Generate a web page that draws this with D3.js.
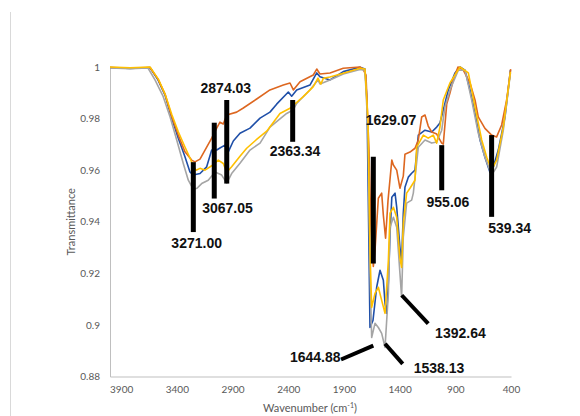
<!DOCTYPE html>
<html>
<head>
<meta charset="utf-8">
<script src="https://cdn.jsdelivr.net/npm/d3@7"></script>
<style>
  body { margin: 0; background: #fff; }
  svg { display: block; }
</style>
</head>
<body>
<div id="container"></div>
<script>
/* CONSTANTS AND GLOBALS */
const width = 580,
  height = 416,
  margin = { top: 67, bottom: 39.5, left: 110, right: 69 };

// DATA - [wavenumber, transmittance]
const blueSeries = [
  [4000, 0.9998], [3820, 0.9994], [3641, 0.9998], [3569, 0.9950], [3506, 0.9891], [3446, 0.9802],
  [3387, 0.9724], [3327, 0.9652], [3282, 0.9593], [3252, 0.9581], [3192, 0.9587], [3132, 0.9613],
  [3087, 0.9678], [3042, 0.9678], [3013, 0.9686], [2968, 0.9697], [2938, 0.9671], [2893, 0.9713],
  [2833, 0.9743], [2743, 0.9763], [2653, 0.9802], [2564, 0.9825], [2504, 0.9856], [2399, 0.9903],
  [2369, 0.9887], [2324, 0.9911], [2205, 0.9930], [2144, 0.9977], [2115, 0.9962], [2025, 0.9950],
  [1906, 0.9982], [1756, 0.9999], [1711, 0.9992], [1693, 0.9872], [1675, 0.9289], [1666, 0.8990],
  [1639, 0.9017], [1606, 0.9146], [1576, 0.9212], [1546, 0.9173], [1531, 0.9084], [1516, 0.9045],
  [1500, 0.9173], [1486, 0.9355], [1470, 0.9495], [1441, 0.9511], [1426, 0.9456], [1397, 0.9301],
  [1382, 0.9243], [1367, 0.9433], [1352, 0.9534], [1322, 0.9573], [1292, 0.9588], [1262, 0.9600],
  [1232, 0.9736], [1172, 0.9755], [1112, 0.9748], [1067, 0.9767], [1038, 0.9783], [1008, 0.9833],
  [963, 0.9911], [903, 0.9977], [858, 1.0], [813, 0.9988], [768, 0.9911], [723, 0.9821],
  [678, 0.9717], [634, 0.9650], [589, 0.9592], [559, 0.9612], [514, 0.9678], [454, 0.9806],
  [405, 0.9988]
];

const orangeSeries = [
  [4000, 0.9998], [3820, 0.9996], [3641, 0.9998], [3569, 0.9953], [3506, 0.9895], [3446, 0.9807],
  [3387, 0.9736], [3327, 0.9671], [3267, 0.9639], [3237, 0.9632], [3192, 0.9643], [3147, 0.9678],
  [3087, 0.9724], [3042, 0.9763], [3013, 0.9786], [2983, 0.9779], [2952, 0.9814], [2863, 0.9825],
  [2803, 0.9841], [2683, 0.9876], [2564, 0.9911], [2444, 0.9930], [2384, 0.9938], [2354, 0.9911],
  [2294, 0.9943], [2175, 0.9969], [2144, 0.9992], [2115, 0.9973], [2025, 0.9977], [1906, 0.9995],
  [1756, 1.0], [1729, 0.9992], [1702, 0.9969], [1675, 0.9678], [1657, 0.9367], [1636, 0.9227],
  [1621, 0.9289], [1591, 0.9491], [1561, 0.9511], [1546, 0.9425], [1526, 0.9336], [1504, 0.9483],
  [1470, 0.9639], [1456, 0.9620], [1426, 0.9600], [1397, 0.9530], [1367, 0.9577], [1352, 0.9662],
  [1307, 0.9670], [1262, 0.9685], [1232, 0.9717], [1202, 0.9806], [1172, 0.9814], [1143, 0.9771],
  [1112, 0.9748], [1067, 0.9740], [1022, 0.9705], [1008, 0.9701], [977, 0.9856], [948, 0.9899],
  [918, 0.9950], [876, 1.0], [828, 0.9988], [768, 0.9938], [723, 0.9872], [694, 0.9807],
  [634, 0.9762], [574, 0.9736], [529, 0.9729], [484, 0.9775], [439, 0.9872], [403, 0.9992]
];

const graySeries = [
  [4000, 0.9996], [3820, 0.9993], [3659, 0.9996], [3596, 0.9950], [3522, 0.9885], [3461, 0.9807],
  [3401, 0.9717], [3342, 0.9626], [3297, 0.9561], [3252, 0.9526], [3219, 0.9530], [3177, 0.9548],
  [3118, 0.9561], [3057, 0.9593], [2997, 0.9581], [2952, 0.9550], [2908, 0.9587], [2833, 0.9627],
  [2743, 0.9678], [2653, 0.9705], [2564, 0.9767], [2414, 0.9820], [2357, 0.9833], [2324, 0.9859],
  [2294, 0.9872], [2205, 0.9911], [2133, 0.9950], [2115, 0.9934], [2025, 0.9950], [1906, 0.9973],
  [1756, 0.9990], [1711, 0.9988], [1684, 0.9755], [1666, 0.9212], [1651, 0.8951], [1621, 0.9006],
  [1591, 0.8990], [1561, 0.8967], [1531, 0.8913], [1501, 0.9122], [1486, 0.9379], [1456, 0.9417],
  [1426, 0.9379], [1397, 0.9200], [1382, 0.9107], [1367, 0.9340], [1337, 0.9472], [1292, 0.9484],
  [1277, 0.9511], [1232, 0.9689], [1172, 0.9717], [1112, 0.9705], [1067, 0.9709], [1022, 0.9755],
  [993, 0.9845], [948, 0.9911], [873, 0.9988], [813, 0.9988], [753, 0.9872], [694, 0.9744],
  [634, 0.9650], [574, 0.9581], [529, 0.9612], [469, 0.9755], [405, 0.9977]
];

const yellowSeries = [
  [4000, 1.0], [3820, 0.9997], [3641, 1.0], [3566, 0.9953], [3506, 0.9895], [3446, 0.9817],
  [3387, 0.9749], [3327, 0.9690], [3282, 0.9647], [3252, 0.9616], [3228, 0.9600], [3192, 0.9607],
  [3147, 0.9600], [3087, 0.9617], [3028, 0.9639], [2983, 0.9626], [2952, 0.9592], [2908, 0.9613],
  [2833, 0.9654], [2773, 0.9685], [2689, 0.9717], [2593, 0.9751], [2474, 0.9820], [2384, 0.9840],
  [2265, 0.9885], [2175, 0.9924], [2133, 0.9957], [2106, 0.9934], [2085, 0.9956], [2025, 0.9961],
  [1906, 0.9976], [1756, 0.9995], [1711, 0.9992], [1684, 0.9794], [1666, 0.9289], [1651, 0.9068],
  [1621, 0.9122], [1591, 0.9146], [1561, 0.9095], [1531, 0.9045], [1501, 0.9250], [1486, 0.9433],
  [1456, 0.9456], [1426, 0.9417], [1397, 0.9258], [1382, 0.9223], [1367, 0.9394], [1337, 0.9511],
  [1307, 0.9530], [1262, 0.9561], [1247, 0.9689], [1187, 0.9736], [1143, 0.9724], [1098, 0.9736],
  [1067, 0.9705], [1038, 0.9767], [1008, 0.9872], [948, 0.9938], [858, 1.0], [783, 0.9977],
  [723, 0.9845], [663, 0.9717], [618, 0.9650], [574, 0.9600], [529, 0.9639], [469, 0.9767],
  [405, 0.9981]
];

const seriesColors = ["#1F4FA8", "#DD6720", "#A5A5A5", "#FFC000"];

const xTicks = [3900, 3400, 2900, 2400, 1900, 1400, 900, 400];
const yTicks = [0.88, 0.9, 0.92, 0.94, 0.96, 0.98, 1];

// PEAK MARKERS - line ends and label anchor, in wavenumber / transmittance
const peakLabels = ["3271.00", "3067.05", "2874.03", "2363.34", "1629.07", "955.06", "539.34", "1392.64", "1538.13", "1644.88"];
const peakLines = [
  [3252, 0.9631, 3252, 0.9360],
  [3064, 0.9784, 3064, 0.9490],
  [2952, 0.9872, 2952, 0.9548],
  [2360, 0.9872, 2360, 0.9710],
  [1636, 0.9652, 1636, 0.9238],
  [1022, 0.9697, 1022, 0.9522],
  [574, 0.9736, 574, 0.9419],
  [1381, 0.9115, 1143, 0.9005],
  [1531, 0.8927, 1372, 0.8849],
  [1636, 0.8920, 1926, 0.8866]
];
const peakText = [
  [3222, 0.9297, "middle"],
  [2945, 0.9433, "middle"],
  [2960, 0.9899, "middle"],
  [2339, 0.9654, "middle"],
  [1477, 0.9775, "middle"],
  [966, 0.9457, "middle"],
  [412, 0.9355, "middle"],
  [854, 0.8948, "middle"],
  [1047, 0.8812, "middle"],
  [1930, 0.8856, "end"]
];

// APPEND SVG
const svg = d3.select("#container")
  .append("svg")
  .attr("width", width)
  .attr("height", height)

// chart frame edge on the left
svg.append("line")
  .attr("x1", 10.5).attr("x2", 10.5)
  .attr("y1", 12).attr("y2", height)
  .attr("stroke", "#D9D9D9")
  .attr("stroke-width", 1)

// SCALES
const xScale = d3.scaleLinear()
  .domain([4000, 400])
  .range([margin.left, width - margin.right])

const yScale = d3.scaleLinear()
  .domain([0.88, 1])
  .range([height - margin.bottom, margin.top])

// AXES
const xAxis = d3.axisBottom(xScale).tickValues(xTicks).tickSize(0).tickPadding(9)
  .tickFormat(d3.format("d"))
const yAxis = d3.axisLeft(yScale).tickValues(yTicks).tickSize(0).tickPadding(10)
  .tickFormat(d => String(+d.toFixed(2)))

svg.append("g")
  .attr("transform", `translate(0, ${height - margin.bottom})`)
  .call(xAxis)
svg.append("g")
  .attr("transform", `translate(${margin.left}, 0)`)
  .call(yAxis)

svg.selectAll(".domain").attr("stroke", "#BFBFBF").attr("stroke-width", 1)
svg.selectAll(".tick text")
  .attr("fill", "#595959")
  .style("font-family", "Lato, 'Open Sans', sans-serif")
  .style("font-size", "10px")

// AXIS TITLES
svg.append("text")
  .attr("transform", `translate(75, ${(margin.top + height - margin.bottom) / 2}) rotate(-90)`)
  .attr("text-anchor", "middle")
  .attr("fill", "#595959")
  .style("font-family", "Lato, 'Open Sans', sans-serif")
  .style("font-size", "11px")
  .text("Transmittance")

const xTitle = svg.append("text")
  .attr("x", 310)
  .attr("y", 412)
  .attr("text-anchor", "middle")
  .attr("fill", "#595959")
  .style("font-family", "Lato, 'Open Sans', sans-serif")
  .style("font-size", "11px")
xTitle.append("tspan").text("Wavenumber (cm")
xTitle.append("tspan").attr("dy", -4).style("font-size", "7px").text("-1")
xTitle.append("tspan").attr("dy", 4).text(")")

// LINES
const lineGen = d3.line()
  .x(d => xScale(d[0]))
  .y(d => yScale(d[1]))

const allSeries = [blueSeries, orangeSeries, graySeries, yellowSeries]

svg.selectAll("path.spectrum")
  .data(allSeries)
  .join("path")
  .attr("class", "spectrum")
  .attr("d", d => lineGen(d))
  .attr("fill", "none")
  .attr("stroke", (d, i) => seriesColors[i])
  .attr("stroke-width", 1.6)
  .attr("stroke-linejoin", "round")

// PEAK MARKERS
svg.selectAll("line.peak")
  .data(peakLines)
  .join("line")
  .attr("class", "peak")
  .attr("x1", d => xScale(d[0]))
  .attr("y1", d => yScale(d[1]))
  .attr("x2", d => xScale(d[2]))
  .attr("y2", d => yScale(d[3]))
  .attr("stroke", "#000")
  .attr("stroke-width", (d, i) => i > 6 ? 4 : 5)

svg.selectAll("text.peak")
  .data(peakText)
  .join("text")
  .attr("class", "peak")
  .attr("x", d => xScale(d[0]))
  .attr("y", d => yScale(d[1]))
  .attr("text-anchor", d => d[2])
  .attr("fill", "#111")
  .style("font-family", "'Liberation Sans', Arial, sans-serif")
  .style("font-weight", "bold")
  .style("font-size", "14px")
  .text((d, i) => peakLabels[i])
</script>
</body>
</html>
